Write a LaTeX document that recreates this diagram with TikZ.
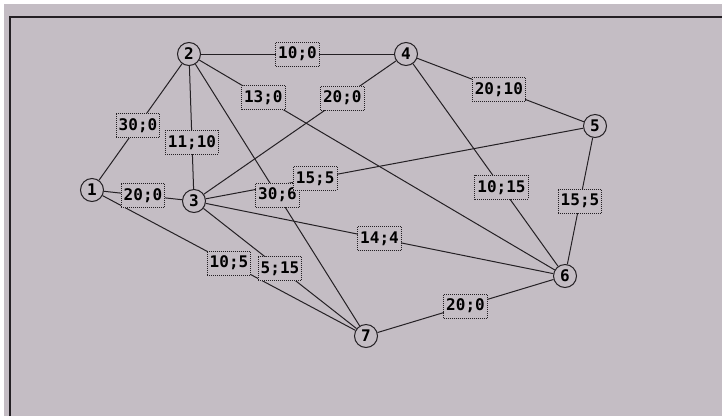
\documentclass[tikz,border=0pt]{standalone}
\usepackage{fontspec}
\newfontfamily\monof{DejaVu Sans Mono}
\definecolor{bgc}{RGB}{196,189,196}
\definecolor{ink}{RGB}{36,32,36}
\tikzset{
  vtx/.style={circle, draw=ink, line width=1pt, fill=bgc, minimum size=23pt, inner sep=0pt,
    font=\monof\bfseries\fontsize{16}{16}\selectfont, text=black},
  lbl/.style={draw=ink, dash pattern=on 1pt off 1pt, line width=1pt, fill=bgc, inner xsep=2.5pt,
    inner ysep=0pt, minimum height=24pt, font=\monof\bfseries\fontsize{16}{16}\selectfont, text=black},
  edge/.style={draw=ink, line width=1pt},
  frame/.style={draw=ink, line width=2pt}
}
\begin{document}
\begin{tikzpicture}[x=1pt, y=-1pt]
\useasboundingbox (0,0) rectangle (722,416);
\fill[white] (0,0) rectangle (722,416);
\fill[bgc] (4,4) rectangle (722,416);
\draw[frame] (9.5,416) -- (9.5,16.5) -- (722,16.5);
% vertices
\node[vtx] (n1) at (92,190) {1};
\node[vtx] (n2) at (189,54) {2};
\node[vtx] (n3) at (194,201) {3};
\node[vtx] (n4) at (406,54) {4};
\node[vtx] (n5) at (595,126) {5};
\node[vtx] (n6) at (565,276) {6};
\node[vtx] (n7) at (366,336) {7};
% edges
\foreach \a/\b in {n1/n2,n1/n3,n1/n7,n2/n4,n2/n3,n2/n6,n2/n7,n3/n4,n3/n5,n3/n6,n3/n7,n4/n5,n4/n6,n5/n6,n6/n7}
  \draw[edge] (\a) -- (\b);
% labels
\path (n1) -- node[lbl, pos=.47] (l12) {30;0} (n2);
\path (n1) -- node[lbl, pos=.5] (l13) {20;0} (n3);
\path (n1) -- node[lbl, pos=.5] (l17) {10;5} (n7);
\path (n2) -- node[lbl, pos=.5] (l24) {10;0} (n4);
\path (n2) -- node[lbl, pos=.62] (l23) {11;10} (n3);
\path (n2) -- node[lbl, pos=.18] (l26) {13;0} (n6);
\path (n2) -- node[lbl, pos=.5] (l27) {30;6} (n7);
\path (n3) -- node[lbl, pos=.72] (l34) {20;0} (n4);
\path (n3) -- node[lbl, pos=.29] (l35) {15;5} (n5);
\path (n3) -- node[lbl, pos=.5] (l36) {14;4} (n6);
\path (n3) -- node[lbl, pos=.5] (l37) {5;15} (n7);
\path (n4) -- node[lbl, pos=.49] (l45) {20;10} (n5);
\path (n4) -- node[lbl, pos=.61] (l46) {10;15} (n6);
\path (n5) -- node[lbl, pos=.5] (l56) {15;5} (n6);
\path (n6) -- node[lbl, pos=.5] (l67) {20;0} (n7);
\end{tikzpicture}
\end{document}
